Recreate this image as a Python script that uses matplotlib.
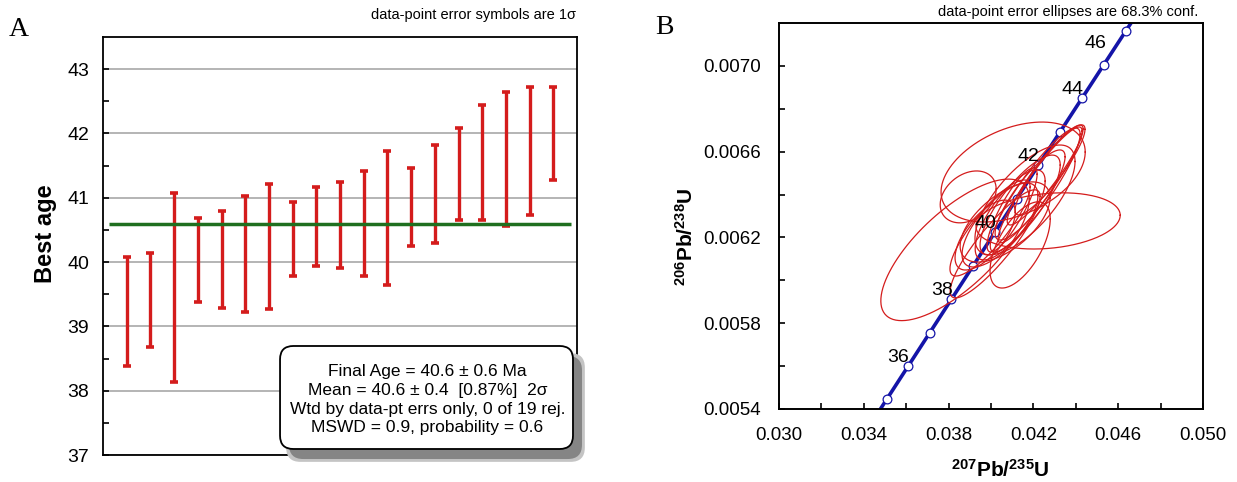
import numpy as np
import matplotlib
matplotlib.use("Agg")
import matplotlib.pyplot as plt
from matplotlib.patches import FancyBboxPatch

# === FONTS ===
plt.rcParams['font.family'] = ['Liberation Sans', 'DejaVu Sans']
plt.rcParams['mathtext.fontset'] = 'custom'
plt.rcParams['mathtext.rm'] = 'Liberation Sans'
plt.rcParams['mathtext.bf'] = 'Liberation Sans:bold'

# === PANEL A DATA: best ages (Ma) with 1 sigma errors ===
best_age = [39.23, 39.41, 39.60, 40.03, 40.04, 40.12, 40.24, 40.36, 40.55, 40.58,
            40.60, 40.69, 40.86, 41.06, 41.37, 41.55, 41.60, 41.73, 42.00]
age_err = [0.85, 0.73, 1.47, 0.65, 0.76, 0.90, 0.97, 0.57, 0.61, 0.67,
           0.82, 1.04, 0.61, 0.76, 0.72, 0.89, 1.04, 1.00, 0.72]
final_age = 40.6
age_ticks = [37, 38, 39, 40, 41, 42, 43]
summary_lines = ["Final Age = 40.6 \u00b1 0.6 Ma",
                 "Mean = 40.6 \u00b1 0.4  [0.87%]  2\u03c3",
                 "Wtd by data-pt errs only, 0 of 19 rej.",
                 "MSWD = 0.9, probability = 0.6"]

# === PANEL B DATA: concordia points (age Ma, 207Pb/235U, 206Pb/238U) ===
conc_age = [34, 35, 36, 37, 38, 39, 40, 41, 42, 43, 44, 45, 46, 47]
conc_x = [0.034052, 0.035071, 0.036091, 0.037111, 0.038133, 0.039156, 0.040180,
          0.041205, 0.042231, 0.043258, 0.044286, 0.045314, 0.046345, 0.047376]
conc_y = [0.0052882, 0.0054442, 0.0056001, 0.0057561, 0.0059122, 0.0060682, 0.0062243,
          0.0063804, 0.0065366, 0.0066927, 0.0068488, 0.0070050, 0.0071613, 0.0073175]
label_ages = [36, 38, 40, 42, 44, 46]

# === PANEL B DATA: analyses (ratio, error half-width, correlation) ===
ell_x = [0.03830, 0.04104, 0.03892, 0.04269, 0.04137, 0.04208, 0.04231, 0.04184, 0.04137, 0.04090,
         0.04042, 0.03995, 0.03972, 0.04099, 0.04255, 0.04160, 0.04019, 0.04278, 0.04066]
ell_y = [0.006142, 0.006505, 0.006389, 0.006277, 0.006165, 0.006421, 0.006445, 0.006398, 0.006351, 0.006305,
         0.006258, 0.006244, 0.006211, 0.006328, 0.006491, 0.006375, 0.006170, 0.006515, 0.006272]
ell_sx = [0.00350, 0.00340, 0.00132, 0.00340, 0.00142, 0.00212, 0.00198, 0.00165, 0.00189, 0.00165,
          0.00179, 0.00189, 0.00142, 0.00118, 0.00179, 0.00236, 0.00212, 0.00165, 0.00212]
ell_sy = [0.000330, 0.000233, 0.000121, 0.000131, 0.000201, 0.000289, 0.000270, 0.000210, 0.000233, 0.000210,
          0.000196, 0.000224, 0.000163, 0.000196, 0.000233, 0.000256, 0.000252, 0.000210, 0.000187]
ell_rho = [0.72, 0.40, 0.30, 0.20, 0.60, 0.90, 0.93, 0.85, 0.80, 0.75,
           0.70, 0.85, 0.65, 0.85, 0.92, 0.70, 0.88, 0.90, 0.60]

RED = '#d41c1c'
GREEN = '#1f6f1f'
BLUE = '#1414a8'

fig = plt.figure(figsize=(12.37, 4.82), dpi=100)

# === PANEL A ===
axA = fig.add_axes([0.0833, 0.056, 0.3832, 0.8672])
xs = np.arange(1, len(best_age) + 1)
axA.errorbar(xs, best_age, yerr=age_err, fmt='none', ecolor=RED,
             elinewidth=2.4, capsize=3, capthick=2.6, zorder=2)
axA.hlines(final_age, 0.25, len(best_age) + 0.75, color=GREEN, lw=2.5, zorder=3)
axA.set_xlim(0, len(best_age) + 1)
axA.set_ylim(37, 43.5)
axA.set_yticks(age_ticks)
axA.set_yticks(np.arange(37.5, 43.5, 1.0), minor=True)
axA.set_xticks([])
axA.yaxis.grid(True, color='#a8a8a8', lw=1.2)
axA.set_axisbelow(True)
axA.tick_params(axis='y', which='both', direction='in', length=4, width=1.2,
                labelsize=14, pad=10)
for s in axA.spines.values():
    s.set_linewidth(1.3)
axA.set_ylabel('Best age', fontsize=17, fontweight='bold', va='center')
axA.yaxis.set_label_coords(-0.122, 0.53)

# summary box with soft shadow
asp = 474 / 418
bx, by, bw, bh = 0.3734, 0.0144, 0.618, 0.2464
for grow, col in [(0.006, '#c4c4c4'), (0.0, '#858585')]:
    sh = FancyBboxPatch((bx + 0.019 - grow, by - 0.024 - grow * asp),
                        bw + 2 * grow, bh + 2 * grow * asp,
                        boxstyle="round,pad=0,rounding_size=0.03", mutation_aspect=asp,
                        transform=axA.transAxes, facecolor=col, edgecolor='none',
                        zorder=4, clip_on=False)
    axA.add_patch(sh)
box = FancyBboxPatch((bx, by), bw, bh,
                     boxstyle="round,pad=0,rounding_size=0.028", mutation_aspect=asp,
                     transform=axA.transAxes, facecolor='white', edgecolor='black',
                     lw=1.3, zorder=5, clip_on=False)
axA.add_patch(box)
axA.text(0.684, 0.132, "\n".join(summary_lines), transform=axA.transAxes,
         ha='center', va='center', fontsize=12.5, linespacing=1.3, zorder=6)

fig.text(576 / 1237, 1 - 15 / 482, 'data-point error symbols are 1\u03c3',
         ha='right', va='center', fontsize=10.5)
fig.text(19 / 1237, 1 - 30 / 482, 'A', family='Liberation Serif', fontsize=20,
         ha='center', va='center')

# === PANEL B ===
axB = fig.add_axes([0.6298, 0.1515, 0.3428, 0.8008])
axB.plot(conc_x, conc_y, color=BLUE, lw=2.6, marker='o', markersize=6.3,
         markerfacecolor='white', markeredgecolor=BLUE, markeredgewidth=0.9, zorder=2)

t = np.linspace(0, 2 * np.pi, 200)
for cx, cy, sx, sy, r in zip(ell_x, ell_y, ell_sx, ell_sy, ell_rho):
    ex = cx + sx * np.cos(t)
    ey = cy + sy * (r * np.cos(t) + np.sqrt(1 - r * r) * np.sin(t))
    axB.plot(ex, ey, color=RED, lw=0.9, zorder=3)

for age, x, y in zip(conc_age, conc_x, conc_y):
    if age in label_ages:
        off = (-22, -8.5) if age == 46 else (-7, 6.5)
        axB.annotate(str(age), (x, y), xytext=off, textcoords='offset points',
                     ha='center', va='center', fontsize=14, zorder=4)

axB.set_xlim(0.030, 0.050)
axB.set_ylim(0.0054, 0.0072)
axB.set_xticks(np.arange(0.030, 0.0501, 0.004))
axB.set_xticks(np.arange(0.032, 0.050, 0.004), minor=True)
axB.set_yticks(np.arange(0.0054, 0.00701, 0.0004))
axB.set_yticks(np.arange(0.0056, 0.0072, 0.0004), minor=True)
axB.xaxis.set_major_formatter(plt.FormatStrFormatter('%.3f'))
axB.yaxis.set_major_formatter(plt.FormatStrFormatter('%.4f'))
axB.tick_params(which='both', direction='in', length=4, width=1.2, labelsize=13.5)
axB.tick_params(axis='y', pad=13)
axB.tick_params(axis='x', pad=13)
for s in axB.spines.values():
    s.set_linewidth(1.4)
axB.set_xlabel(r'$\mathbf{^{207}Pb/^{235}U}$', fontsize=15, va='center')
axB.xaxis.set_label_coords(0.521, -0.158)
axB.set_ylabel(r'$\mathbf{^{206}Pb/^{238}U}$', fontsize=15, va='center')
axB.yaxis.set_label_coords(-0.219, 0.446)

fig.text(1198 / 1237, 1 - 12 / 482, 'data-point error ellipses are 68.3% conf.',
         ha='right', va='center', fontsize=10.5)
fig.text(664 / 1237, 1 - 28 / 482, 'B', family='Liberation Serif', fontsize=20,
         ha='center', va='center')

fig.savefig('out.png', dpi=100)
